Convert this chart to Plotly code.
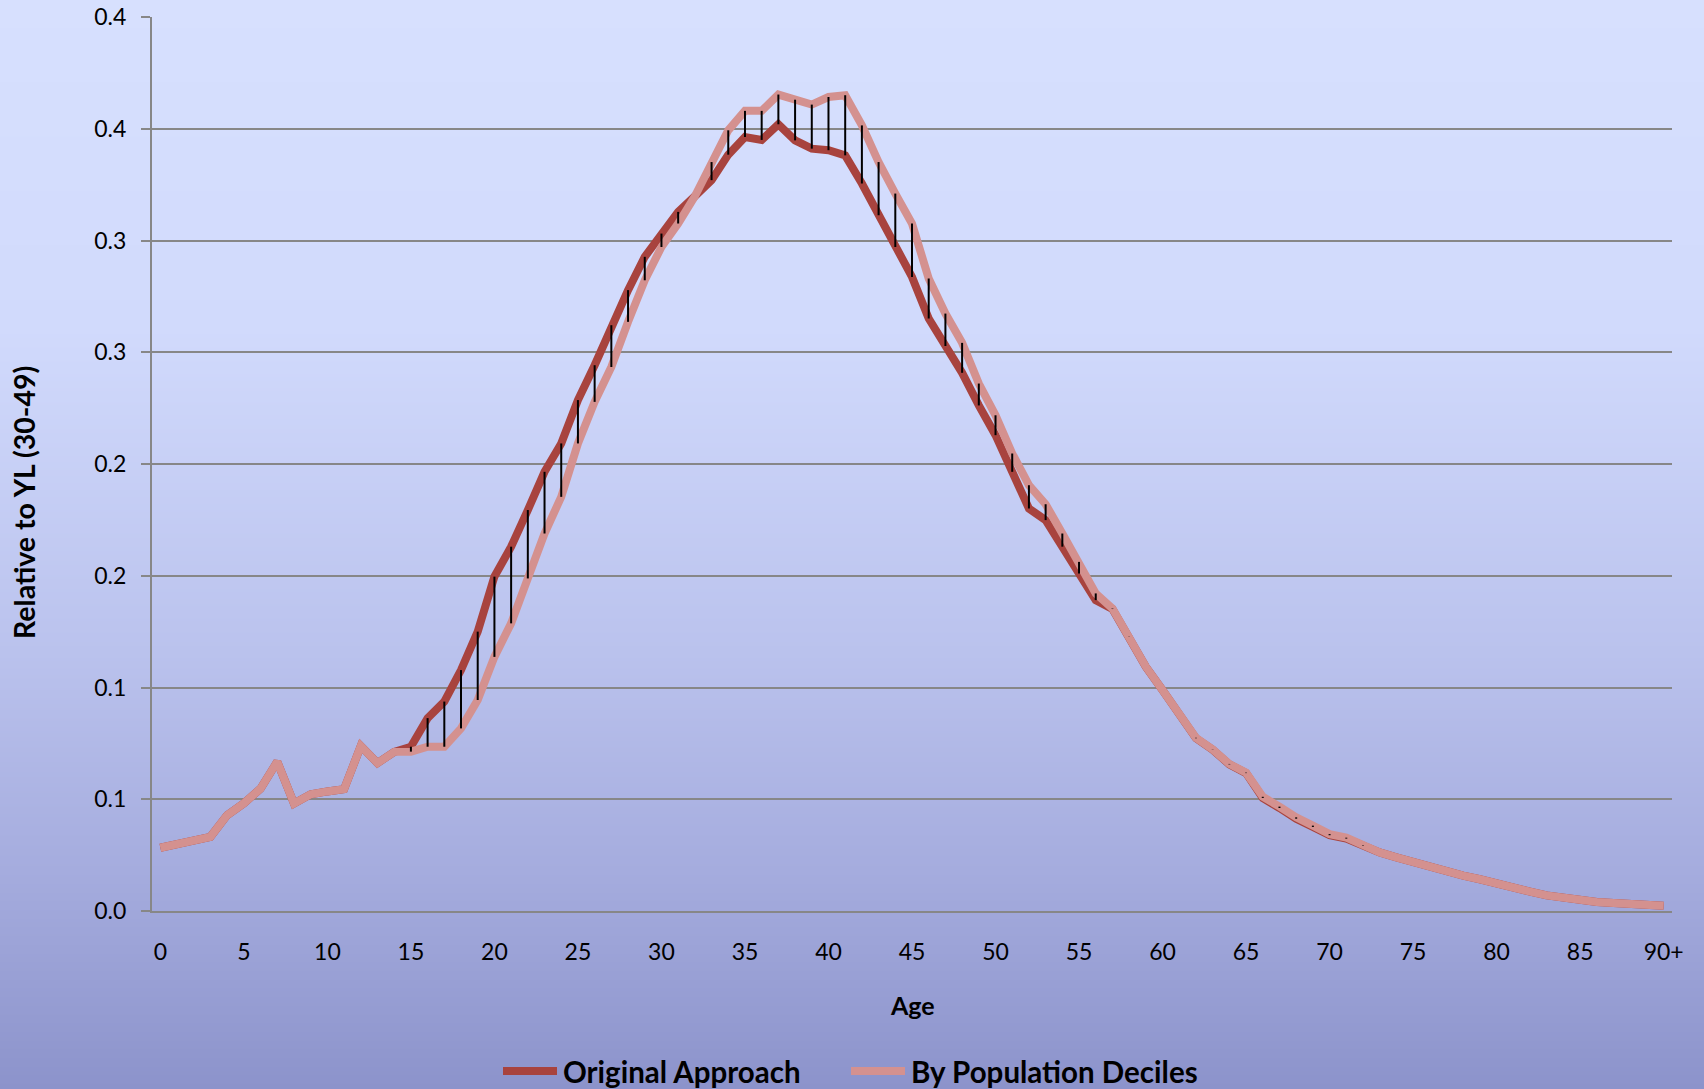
import base64, struct, zlib
import plotly.graph_objects as go

# ---------------- data ----------------
ages = [str(a) for a in range(90)] + ["90+"]

original_approach = [
    0.0283, 0.0297, 0.0313, 0.0332, 0.0429, 0.0482, 0.0548, 0.0668, 0.0481, 0.0522,
    0.0535, 0.0545, 0.0738, 0.0662, 0.0712, 0.0735, 0.0863, 0.0937, 0.1078, 0.1250,
    0.1496, 0.1630, 0.1794, 0.1965, 0.2092, 0.2286, 0.2442, 0.2621, 0.2778, 0.2927,
    0.3031, 0.3128, 0.3198, 0.3270, 0.3384, 0.3463, 0.3450, 0.3520, 0.3448, 0.3411,
    0.3404, 0.3381, 0.3255, 0.3113, 0.2971, 0.2837, 0.2651, 0.2528, 0.2408, 0.2262,
    0.2129, 0.1965, 0.1801, 0.1749, 0.1630, 0.1510, 0.1391, 0.1351, 0.1226, 0.1093,
    0.0988, 0.0884, 0.0773, 0.0722, 0.0656, 0.0617, 0.0506, 0.0461, 0.0413, 0.0376,
    0.0339, 0.0324, 0.0292, 0.0262, 0.0240, 0.0218, 0.0198, 0.0177, 0.0158, 0.0142,
    0.0121, 0.0099, 0.0087, 0.0070, 0.0057, 0.0045, 0.0040, 0.0036, 0.0033, 0.0030,
    0.0024,
]

by_population_deciles = [
    0.0283, 0.0297, 0.0313, 0.0332, 0.0429, 0.0482, 0.0548, 0.0668, 0.0481, 0.0522,
    0.0535, 0.0545, 0.0738, 0.0662, 0.0712, 0.0713, 0.0735, 0.0735, 0.0817, 0.0944,
    0.1137, 0.1287, 0.1488, 0.1689, 0.1853, 0.2092, 0.2278, 0.2434, 0.2636, 0.2822,
    0.2971, 0.3076, 0.3198, 0.3351, 0.3493, 0.3580, 0.3580, 0.3653, 0.3630, 0.3608,
    0.3642, 0.3650, 0.3515, 0.3351, 0.3210, 0.3076, 0.2830, 0.2673, 0.2542, 0.2360,
    0.2218, 0.2047, 0.1905, 0.1820, 0.1689, 0.1562, 0.1421, 0.1353, 0.1227, 0.1093,
    0.0988, 0.0884, 0.0775, 0.0723, 0.0658, 0.0619, 0.0511, 0.0467, 0.0419, 0.0382,
    0.0344, 0.0328, 0.0294, 0.0262, 0.0240, 0.0218, 0.0198, 0.0177, 0.0158, 0.0142,
    0.0121, 0.0099, 0.0087, 0.0070, 0.0057, 0.0045, 0.0040, 0.0036, 0.0033, 0.0030,
    0.0024,
]

series_names = ["Original Approach", "By Population Deciles"]
series_colors = ["#A8433E", "#D4918F"]

y_tick_values = [0.0, 0.05, 0.10, 0.15, 0.20, 0.25, 0.30, 0.35, 0.40]
y_tick_labels = ["0.0", "0.1", "0.1", "0.2", "0.2", "0.3", "0.3", "0.4", "0.4"]
x_tick_labels = ages[::5]

# ---------------- layout geometry ----------------
W, H = 1704, 1089
ML, MR, MT, MB = 152, 32, 17, 178
PW, PH = W - ML - MR, H - MT - MB

def px_x(x):  # figure pixel -> paper x
    return (x - ML) / PW

def px_y(y):  # figure pixel (from top) -> paper y
    return ((H - MB) - y) / PH

# ---------------- background gradient (PNG data URI) ----------------
stops = [(0.0, (215, 224, 254)), (0.30, (209, 218, 252)), (0.60, (186, 194, 237)),
         (0.80, (165, 172, 222)), (1.0, (140, 147, 203))]

def grad(t):
    for (t0, c0), (t1, c1) in zip(stops[:-1], stops[1:]):
        if t <= t1:
            f = (t - t0) / (t1 - t0)
            return tuple(int(round(a + (b - a) * f)) for a, b in zip(c0, c1))
    return stops[-1][1]

rows = b"".join(b"\x00" + bytes(grad(i / (H - 1))) for i in range(H))
def chunk(tag, data):
    c = struct.pack(">I", len(data)) + tag + data
    return c + struct.pack(">I", zlib.crc32(tag + data) & 0xffffffff)
png = (b"\x89PNG\r\n\x1a\n" + chunk(b"IHDR", struct.pack(">IIBBBBB", 1, H, 8, 2, 0, 0, 0))
       + chunk(b"IDAT", zlib.compress(rows)) + chunk(b"IEND", b""))
bg_uri = "data:image/png;base64," + base64.b64encode(png).decode()

# ---------------- figure ----------------
fig = go.Figure()

for name, vals, col in zip(series_names, [original_approach, by_population_deciles], series_colors):
    fig.add_trace(go.Scatter(x=ages, y=vals, mode="lines", name=name,
                             line=dict(color=col, width=8), showlegend=False))

# high-low lines
hx, hy = [], []
for a, o, d in zip(ages, original_approach, by_population_deciles):
    hx += [a, a, None]
    hy += [o, d, None]
fig.add_trace(go.Scatter(x=hx, y=hy, mode="lines", showlegend=False,
                         line=dict(color="black", width=2), hoverinfo="skip"))

# custom legend (line samples + text)
legend_y = 1071
legend_line_x = [(503, 557), (851, 905)]
shapes, annotations = [], []
for (x0, x1), name, col in zip(legend_line_x, series_names, series_colors):
    shapes.append(dict(type="line", xref="paper", yref="paper",
                       x0=px_x(x0), x1=px_x(x1), y0=px_y(legend_y), y1=px_y(legend_y),
                       line=dict(color=col, width=8)))
    annotations.append(dict(text="<b>%s</b>" % name, xref="paper", yref="paper",
                            x=px_x(x1 + 4), y=px_y(legend_y), showarrow=False,
                            xanchor="left", yanchor="middle",
                            font=dict(size=29.5, family="Lato", color="#000000")))

annotations += [
    dict(text="<b>Relative to YL (30-49)</b>", xref="paper", yref="paper",
         x=px_x(24), y=px_y(503), textangle=-90, showarrow=False,
         font=dict(size=28.5, family="Lato"), xanchor="center", yanchor="middle"),
    dict(text="<b>Age</b>", xref="paper", yref="paper",
         x=0.5, y=px_y(1005), showarrow=False,
         font=dict(size=25, family="Lato"), xanchor="center", yanchor="middle"),
]

gray = "#878787"
fig.update_layout(
    width=W, height=H,
    margin=dict(l=ML, r=MR, t=MT, b=MB, autoexpand=False),
    paper_bgcolor="#C0C8F0",
    plot_bgcolor="rgba(0,0,0,0)",
    font=dict(family="Lato", color="#000000"),
    showlegend=False,
    images=[dict(source=bg_uri, xref="paper", yref="paper",
                 x=-ML / PW, y=1 + MT / PH, sizex=W / PW, sizey=H / PH,
                 xanchor="left", yanchor="top", sizing="stretch", layer="below")],
    xaxis=dict(type="category", range=[-0.5, 90.5], tickmode="array",
               tickvals=x_tick_labels, ticktext=x_tick_labels, automargin=False,
               showgrid=False, showline=True, linecolor=gray, linewidth=2,
               ticks="", tickfont=dict(size=23, family="Lato"),
               ticklabelstandoff=19, zeroline=False),
    yaxis=dict(range=[0, 0.4], tickmode="array", tickvals=y_tick_values,
               ticktext=y_tick_labels, showgrid=True, gridcolor=gray, gridwidth=1.6,
               showline=True, linecolor=gray, linewidth=2, ticks="outside",
               ticklen=9, tickwidth=1.6, tickcolor=gray, automargin=False,
               tickfont=dict(size=23, family="Lato"), ticklabelstandoff=10,
               zeroline=False),
    shapes=shapes,
    annotations=annotations,
)

fig.write_html("out.html")
